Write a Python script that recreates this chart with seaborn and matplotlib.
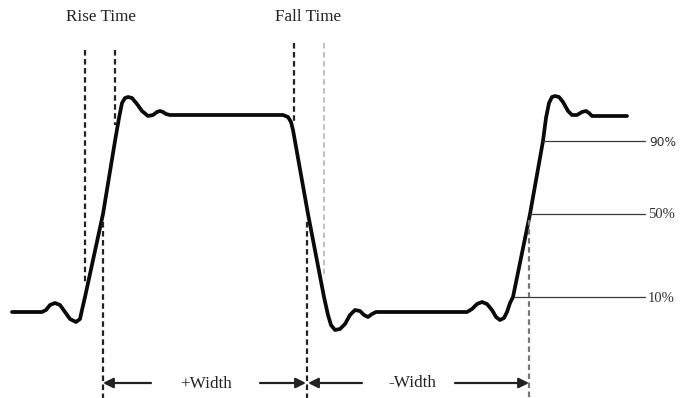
import matplotlib
matplotlib.use("Agg")
import matplotlib.pyplot as plt
import seaborn as sns
import pandas as pd

sns.set_theme(style="white")
plt.rcParams['lines.scale_dashes'] = False

# Waveform trace (image-pixel units, y downward)
wave_x = [12, 42, 46, 50, 55, 60, 65, 70, 76, 80, 82, 85, 103, 115, 119, 122, 125, 128, 132,
          137, 142, 148, 153, 157, 160, 163, 166, 170, 283, 288, 291, 293, 308, 324, 328, 331,
          335, 340, 345, 350, 355, 360, 364, 368, 372, 376, 467, 472, 477, 482, 487, 492, 496,
          500, 504, 507, 510, 513, 530, 543, 546, 549, 552, 555, 559, 563, 568, 572, 577, 582,
          586, 589, 592, 627]
wave_y = [312, 312, 310, 305, 303, 305, 312, 319, 322, 319, 310, 297, 214, 141, 118, 103, 98, 97, 98,
          104, 111, 116, 115, 112, 111, 112, 114, 115, 115, 117, 122, 130, 214, 297, 315, 325,
          330, 329, 324, 315, 310, 311, 315, 317, 314, 312, 312, 309, 304, 302, 304, 310, 317,
          320, 318, 312, 303, 297, 214, 141, 118, 103, 97, 96, 97, 102, 111, 115, 115, 112,
          111, 113, 116, 116]

# Threshold levels (label, y level, start x of the leader line)
level_labels = ["90%", "50%", "10%"]
level_y = [141, 214, 297]
level_x0 = [543, 530, 514]

# Measurement markers (x position, top y, bottom y, colour)
marker_x = [85, 115, 294, 324, 103, 307, 529]
marker_top = [50, 50, 43, 43, 222, 222, 220]
marker_bottom = [283, 125, 122, 277, 398, 398, 398]
marker_color = ["#222222", "#222222", "#222222", "#b5b5b5", "#222222", "#222222", "#777777"]

titles = ["Rise Time", "Fall Time"]
title_x = [101, 308]

fig = plt.figure(figsize=(6.94, 3.98), dpi=100)
ax = fig.add_axes([0, 0, 1, 1])
ax.set_xlim(0, 694)
ax.set_ylim(398, 0)
ax.axis("off")

df = pd.DataFrame({"x": wave_x, "y": wave_y})
sns.lineplot(data=df, x="x", y="y", sort=False, estimator=None, ax=ax,
             color="#0a0a0a", linewidth=2.7, solid_joinstyle="round", solid_capstyle="round")

for x, t, b, c in zip(marker_x, marker_top, marker_bottom, marker_color):
    lw = 1.2 if c == "#b5b5b5" else 1.6
    ax.plot([x, x], [t, b], color=c, lw=lw, dashes=(4, 2.5))

for lab, y, x0 in zip(level_labels, level_y, level_x0):
    ax.plot([x0, 645], [y, y], color="#3a3a3a", lw=0.9)
    if lab == "90%":
        ax.text(649, y + 1, lab, fontsize=8.8, family="DejaVu Sans", color="#333333",
                va="center", ha="left")
    else:
        ax.text(648, y + 1, lab, fontsize=10.5, family="Liberation Serif", color="#333333",
                va="center", ha="left")

for t, x in zip(titles, title_x):
    ax.text(x, 17, t, fontsize=12.3, family="Liberation Serif", color="#222222",
            ha="center", va="center")

ap = dict(arrowstyle="-|>", lw=1.6, color="#222222", mutation_scale=15, shrinkA=0, shrinkB=0)
arrow_y = 383
ax.annotate("", xy=(103, arrow_y), xytext=(151, arrow_y), arrowprops=ap)
ax.annotate("", xy=(306, arrow_y), xytext=(260, arrow_y), arrowprops=ap)
ax.annotate("", xy=(308, arrow_y), xytext=(362, arrow_y), arrowprops=ap)
ax.annotate("", xy=(529, arrow_y), xytext=(455, arrow_y), arrowprops=ap)
ax.text(206, arrow_y + 1, "+Width", fontsize=12.3, family="Liberation Serif", color="#222222",
        ha="center", va="center")
ax.text(412, arrow_y, "-Width", fontsize=12.3, family="Liberation Serif", color="#222222",
        ha="center", va="center")

fig.savefig("out.png", dpi=100)
